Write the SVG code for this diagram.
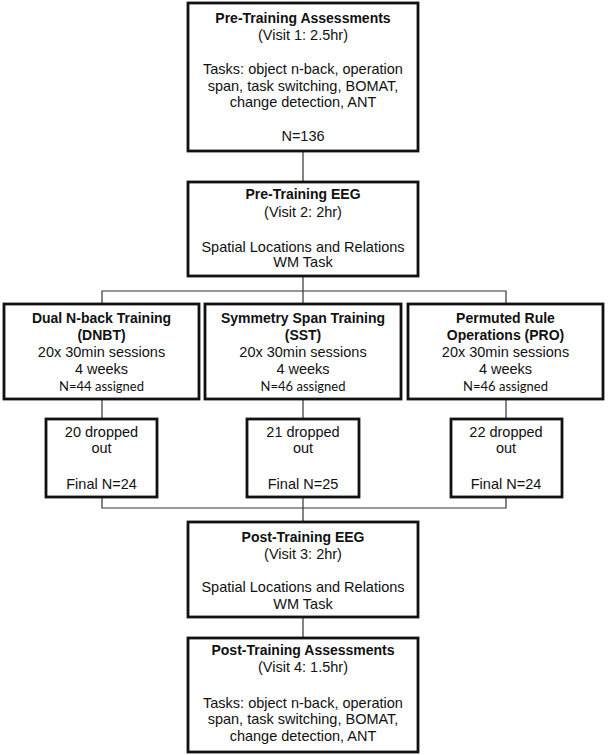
<svg xmlns="http://www.w3.org/2000/svg" width="608" height="755" viewBox="0 0 608 755">
<style>
.box{fill:#fff;stroke:#111;stroke-width:2.8}
.c{fill:none;stroke:#333;stroke-width:1.2}
text{font-family:"Liberation Sans",Arial,sans-serif;font-size:14.5px;fill:#111;text-anchor:middle}
.b{font-weight:bold;font-size:14px}
.s{font-family:Lato,"Liberation Sans",sans-serif;font-size:13px}
</style>
<rect width="608" height="755" fill="#fff"/>
<g id="connectors">
<line class="c" x1="303" y1="151" x2="303" y2="182"/>
<line class="c" x1="303" y1="276" x2="303" y2="291"/>
<polyline class="c" points="102,304 102,291 506,291 506,304"/>
<line class="c" x1="303" y1="291" x2="303" y2="304"/>
<line class="c" x1="102" y1="399" x2="102" y2="419"/>
<line class="c" x1="303" y1="399" x2="303" y2="419"/>
<line class="c" x1="506" y1="399" x2="506" y2="419"/>
<polyline class="c" points="102,497 102,508 506,508 506,497"/>
<line class="c" x1="303" y1="497" x2="303" y2="522"/>
<line class="c" x1="303" y1="617" x2="303" y2="638"/>
</g>
<g id="pre-assess">
<rect class="box" x="188" y="3" width="230" height="148"/>
<text class="b" x="303" y="23">Pre-Training Assessments</text>
<text x="303" y="39.5">(Visit 1: 2.5hr)</text>
<text x="303" y="74">Tasks: object n-back, operation</text>
<text x="303" y="90.7">span, task switching, BOMAT,</text>
<text x="303" y="107.3">change detection, ANT</text>
<text x="303" y="140.7">N=136</text>
</g>
<g id="pre-eeg">
<rect class="box" x="188" y="182" width="230" height="94"/>
<text class="b" x="303" y="199.3">Pre-Training EEG</text>
<text x="303" y="216.7">(Visit 2: 2hr)</text>
<text x="303" y="251.7">Spatial Locations and Relations</text>
<text x="303" y="267.3">WM Task</text>
</g>
<g id="dnbt">
<rect class="box" x="4" y="304" width="195" height="95"/>
<text class="b" x="101.5" y="323.3">Dual N-back Training</text>
<text class="b" x="101.5" y="340">(DNBT)</text>
<text x="101.5" y="356.7">20x 30min sessions</text>
<text x="101.5" y="374">4 weeks</text>
<text class="s" x="101.5" y="390.7">N=44 assigned</text>
</g>
<g id="sst">
<rect class="box" x="205" y="304" width="196" height="95"/>
<text class="b" x="303" y="323.3">Symmetry Span Training</text>
<text class="b" x="303" y="340">(SST)</text>
<text x="303" y="356.7">20x 30min sessions</text>
<text x="303" y="374">4 weeks</text>
<text class="s" x="303" y="390.7">N=46 assigned</text>
</g>
<g id="pro">
<rect class="box" x="408" y="304" width="195" height="95"/>
<text class="b" x="505.5" y="323.3">Permuted Rule</text>
<text class="b" x="505.5" y="340">Operations (PRO)</text>
<text x="505.5" y="356.7">20x 30min sessions</text>
<text x="505.5" y="374">4 weeks</text>
<text class="s" x="505.5" y="390.7">N=46 assigned</text>
</g>
<g id="dnbt-drop">
<rect class="box" x="46" y="419" width="111" height="78"/>
<text x="101.5" y="436.7">20 dropped</text>
<text x="101.5" y="453.3">out</text>
<text x="101.5" y="489">Final N=24</text>
</g>
<g id="sst-drop">
<rect class="box" x="247" y="419" width="112" height="78"/>
<text x="303" y="436.7">21 dropped</text>
<text x="303" y="453.3">out</text>
<text x="303" y="489">Final N=25</text>
</g>
<g id="pro-drop">
<rect class="box" x="451" y="419" width="111" height="78"/>
<text x="506" y="436.7">22 dropped</text>
<text x="506" y="453.3">out</text>
<text x="506" y="489">Final N=24</text>
</g>
<g id="post-eeg">
<rect class="box" x="188" y="522" width="230" height="95"/>
<text class="b" x="303" y="541.7">Post-Training EEG</text>
<text x="303" y="559">(Visit 3: 2hr)</text>
<text x="303" y="592.3">Spatial Locations and Relations</text>
<text x="303" y="609">WM Task</text>
</g>
<g id="post-assess">
<rect class="box" x="188" y="638" width="230" height="114"/>
<text class="b" x="303" y="655">Post-Training Assessments</text>
<text x="303" y="671.7">(Visit 4: 1.5hr)</text>
<text x="303" y="707.7">Tasks: object n-back, operation</text>
<text x="303" y="724.3">span, task switching, BOMAT,</text>
<text x="303" y="741">change detection, ANT</text>
</g>
</svg>
